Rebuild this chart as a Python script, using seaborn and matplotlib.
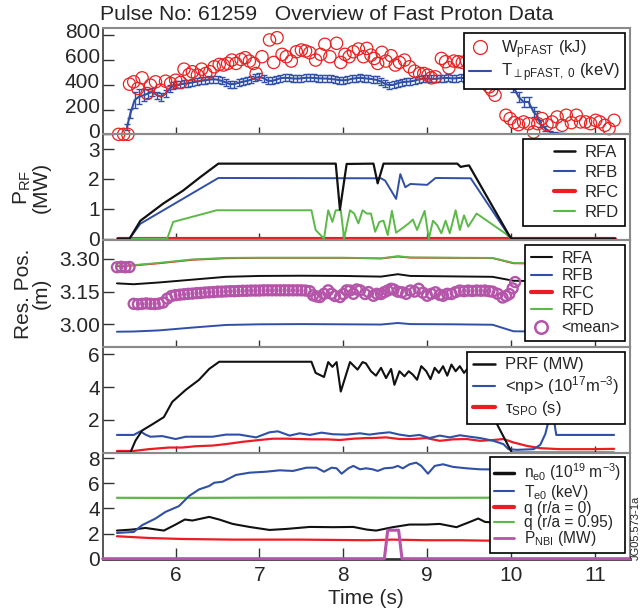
import numpy as np
import pandas as pd
import matplotlib
matplotlib.use("Agg")
import matplotlib.pyplot as plt
from matplotlib.lines import Line2D
from matplotlib.legend_handler import HandlerLine2D
from matplotlib.transforms import ScaledTranslation
import seaborn as sns

# ---------------- data ----------------
# Panel 1: fast proton energy content (circles) and perpendicular temperature (line + error bars)
W_t = [5.32, 5.38, 5.43, 5.45, 5.50, 5.55, 5.60, 5.66, 5.70, 5.76, 5.82, 5.88, 5.94, 6.00, 6.06, 6.10,
       6.16, 6.20, 6.26, 6.31, 6.36, 6.41, 6.46, 6.52, 6.57, 6.62, 6.67, 6.72, 6.78, 6.83, 6.88, 6.93,
       6.96, 7.03, 7.12, 7.17, 7.21, 7.27, 7.32, 7.38, 7.44, 7.50, 7.55, 7.60, 7.67, 7.73, 7.78, 7.84,
       7.92, 7.97, 8.02, 8.07, 8.12, 8.18, 8.24, 8.28, 8.33, 8.37, 8.41, 8.46, 8.51, 8.57, 8.62, 8.67,
       8.73, 8.79, 8.85, 8.91, 8.96, 9.01, 9.05, 9.10, 9.17, 9.22, 9.26, 9.32, 9.37, 9.42, 9.47, 9.52,
       9.55, 9.58, 9.62, 9.66, 9.70, 9.74, 9.77, 9.81, 9.94, 9.99, 10.04, 10.09, 10.15, 10.21, 10.27,
       10.32, 10.37, 10.43, 10.49, 10.55, 10.61, 10.66, 10.72, 10.78, 10.83, 10.89, 10.95, 11.01, 11.06,
       11.12, 11.17, 11.23]
W_v = [0, 0, 0, 404, 423, 369, 455, 329, 396, 423, 356, 428, 410, 436, 418, 525,
       482, 504, 477, 525, 490, 504, 544, 563, 558, 571, 598, 571, 603, 617, 590, 571,
       490, 625, 760, 579, 778, 644, 625, 590, 665, 679, 671, 657, 598, 644, 725, 625,
       733, 579, 644, 625, 665, 687, 625, 692, 638, 611, 571, 660, 590, 633, 558, 579,
       598, 544, 509, 490, 490, 477, 455, 463, 611, 585, 536, 590, 585, 579, 590, 544,
       571, 460, 520, 480, 430, 382, 356, 315, 154, 127, 94, 78, 100, 86, 19,
       86, 127, 78, 100, 140, 73, 154, 94, 154, 100, 100, 86, 113, 100,
       73, 46, 113]

T_t = [5.42, 5.46, 5.51, 5.56, 5.62, 5.67, 5.72, 5.78, 5.83, 5.88, 5.93, 5.97,
       6.00, 6.05, 6.10, 6.15, 6.20, 6.25, 6.30, 6.35, 6.40, 6.45, 6.50, 6.55, 6.60, 6.65, 6.70, 6.75,
       6.80, 6.85, 6.90, 6.95, 7.00, 7.05, 7.10, 7.15, 7.20, 7.25, 7.30, 7.35, 7.40, 7.45, 7.50, 7.55,
       7.60, 7.65, 7.70, 7.75, 7.80, 7.85, 7.90, 7.95, 8.00, 8.05, 8.10, 8.15, 8.20, 8.25, 8.30, 8.35,
       8.40, 8.45, 8.50, 8.55, 8.60, 8.65, 8.70, 8.75, 8.80, 8.85, 8.90, 8.95, 9.00, 9.05, 9.10, 9.15,
       9.20, 9.25, 9.30, 9.35, 9.40, 9.45, 9.50, 9.55, 9.60, 9.65, 9.70, 9.75, 9.80, 9.85, 9.90, 9.95,
       10.00, 10.03, 10.09, 10.15, 10.21, 10.27, 10.31, 10.35, 10.41, 10.47, 10.53, 10.59, 10.70, 10.80,
       10.90, 11.00, 11.10, 11.27]
T_v = [59, 167, 275, 302, 315, 329, 342, 315, 302, 329, 369, 392,
       398, 402, 408, 412, 418, 424, 430, 435, 440, 444, 440, 430, 418, 404, 405, 415,
       423, 430, 440, 455, 462, 452, 432, 430, 440, 452, 455, 454, 450, 449, 451, 455,
       456, 454, 451, 450, 449, 446, 442, 437, 435, 438, 447, 452, 455, 452, 448, 444,
       438, 425, 406, 396, 399, 412, 420, 423, 426, 432, 442, 448, 450, 446, 447, 450,
       453, 454, 450, 452, 455, 452, 452, 462, 474, 472, 468, 466, 463, 460, 455, 440,
       415, 382, 302, 261, 261, 180, 154, 86, 46, 19, 8, 5, 2, 0,
       0, 0, 0, 0]
T_err = [25, 35, 65, 60, 50, 40, 35, 30, 32, 32, 30, 28,
         28, 28, 28, 28, 28, 28, 28, 28, 28, 28, 28, 28, 28, 28, 28, 28,
         28, 28, 28, 28, 28, 28, 28, 28, 28, 28, 28, 28, 28, 28, 28, 28,
         28, 28, 28, 28, 28, 28, 28, 28, 28, 28, 28, 28, 28, 28, 28, 28,
         28, 28, 28, 28, 28, 28, 28, 28, 28, 28, 28, 28, 28, 28, 28, 28,
         28, 28, 28, 28, 28, 28, 28, 28, 28, 28, 28, 28, 28, 28, 30, 32,
         35, 38, 38, 40, 38, 38, 32, 28, 20, 12, 8, 5, 3, 0,
         0, 0, 0, 0]

# Panel 2: RF power per antenna (MW)
RFA_t = [5.31, 5.45, 5.58, 5.85, 6.09, 6.29, 6.51, 7.91, 7.96, 8.04, 8.36, 8.41, 8.48,
         9.36, 9.40, 9.45, 9.50, 9.98, 10.01, 11.24]
RFA_v = [0, 0, 0.60, 1.17, 1.61, 2.05, 2.51, 2.51, 0.97, 2.50, 2.51, 1.85, 2.51,
         2.51, 2.40, 2.43, 2.45, 0.10, 0, 0]
RFB_t = [5.31, 5.45, 5.58, 6.51, 8.45, 8.50, 8.63, 8.68, 8.74, 8.80, 9.00, 9.10, 9.52, 10.00, 11.24]
RFB_v = [0, 0, 0.50, 2.03, 2.02, 1.94, 1.33, 2.16, 1.72, 1.83, 1.80, 2.03, 2.02, 0, 0]
RFC_t = [5.31, 7.00, 9.00, 11.24]
RFC_v = [0, 0, 0, 0]
RFD_t = [5.31, 5.90, 5.97, 6.49, 7.62, 7.67, 7.77, 7.82, 7.87, 7.91, 7.97, 8.01, 8.08, 8.13, 8.18,
         8.23, 8.28, 8.33, 8.38, 8.43, 8.48, 8.53, 8.58, 8.63, 8.70, 8.78, 8.83, 8.88, 8.97, 9.02,
         9.07, 9.12, 9.17, 9.22, 9.27, 9.34, 9.39, 9.44, 9.49, 9.59, 9.93, 10.00, 11.24]
RFD_v = [0, 0, 0.56, 0.95, 0.95, 0.29, 0, 0.95, 0.56, 0.95, 0.95, 0, 0.95, 0.84, 0.51,
         0.95, 0.84, 0.84, 0.23, 0.56, 0.60, 0.12, 0.93, 0.20, 0.34, 0.51, 0.64, 0.29, 0.93, 0,
         0.60, 0.45, 0.18, 0.60, 0.18, 0.95, 0.29, 0.78, 0.40, 0.84, 0.18, 0, 0]

# Panel 3: resonance positions (m)
RES_t = [5.30, 5.50, 5.80, 6.20, 6.60, 7.00, 7.50, 8.00, 8.45, 8.65, 8.80, 9.30, 9.78, 10.03, 10.30, 11.24]
RESA = [3.188, 3.184, 3.192, 3.205, 3.218, 3.222, 3.223, 3.222, 3.219, 3.230, 3.222, 3.220, 3.218, 3.200, 3.198, 3.198]
RESB = [2.966, 2.967, 2.972, 2.985, 2.997, 3.000, 3.001, 3.000, 2.999, 3.006, 3.001, 3.000, 2.998, 2.968, 2.967, 2.967]
RESC = [3.266, 3.270, 3.280, 3.296, 3.303, 3.305, 3.305, 3.305, 3.302, 3.311, 3.306, 3.305, 3.304, 3.280, 3.279, 3.279]
RESD = [3.270, 3.272, 3.282, 3.298, 3.305, 3.306, 3.306, 3.306, 3.303, 3.313, 3.307, 3.306, 3.305, 3.282, 3.280, 3.280]
MEAN_t = [5.30, 5.35, 5.40, 5.45, 5.50, 5.55, 5.60, 5.65, 5.70, 5.75, 5.80, 5.85, 5.90, 5.95,
          6.00, 6.05, 6.10, 6.15, 6.20, 6.25, 6.30, 6.35, 6.40, 6.45, 6.50, 6.55, 6.60, 6.65,
          6.70, 6.75, 6.80, 6.85, 6.90, 6.95, 7.00, 7.05, 7.10, 7.15, 7.20, 7.25, 7.30, 7.35,
          7.40, 7.45, 7.50, 7.55, 7.60, 7.64, 7.68, 7.72, 7.77, 7.82, 7.86, 7.90, 7.96, 8.00,
          8.04, 8.08, 8.12, 8.16, 8.20, 8.26, 8.30, 8.36, 8.40, 8.45, 8.49, 8.53, 8.57, 8.60,
          8.65, 8.70, 8.75, 8.80, 8.85, 8.90, 8.95, 9.00, 9.05, 9.10, 9.15, 9.19, 9.24, 9.29,
          9.34, 9.39, 9.44, 9.49, 9.54, 9.59, 9.64, 9.69, 9.74, 9.78, 9.84, 9.90, 9.94, 9.98,
          10.02, 10.05]
MEAN_v = [3.262, 3.264, 3.262, 3.263, 3.094, 3.092, 3.094, 3.096, 3.094, 3.093, 3.095, 3.100, 3.118, 3.130,
          3.134, 3.136, 3.138, 3.140, 3.141, 3.143, 3.144, 3.146, 3.147, 3.148, 3.150, 3.150, 3.151, 3.152,
          3.152, 3.153, 3.154, 3.154, 3.155, 3.155, 3.155, 3.156, 3.156, 3.156, 3.156, 3.156, 3.156, 3.156,
          3.156, 3.156, 3.156, 3.155, 3.152, 3.133, 3.128, 3.125, 3.140, 3.156, 3.140, 3.130, 3.125, 3.139,
          3.156, 3.155, 3.140, 3.160, 3.156, 3.139, 3.148, 3.131, 3.140, 3.139, 3.148, 3.155, 3.163, 3.160,
          3.150, 3.147, 3.140, 3.155, 3.150, 3.163, 3.145, 3.131, 3.140, 3.147, 3.135, 3.131, 3.140, 3.139,
          3.148, 3.155, 3.152, 3.155, 3.153, 3.155, 3.154, 3.155, 3.152, 3.150, 3.140, 3.123, 3.130, 3.139,
          3.165, 3.194]

# Panel 4: PRF, <np>, tau_SPO
PRF_t = [5.30, 5.46, 5.52, 5.60, 5.72, 5.86, 5.96, 6.12, 6.28, 6.40, 6.52, 7.62, 7.67, 7.77, 7.82,
         7.87, 7.92, 7.97, 8.08, 8.17, 8.23, 8.27, 8.33, 8.39, 8.45, 8.51, 8.57, 8.61, 8.67, 8.73,
         8.78, 8.83, 8.88, 8.93, 8.99, 9.04, 9.09, 9.14, 9.19, 9.24, 9.29, 9.34, 9.39, 9.44, 9.49,
         9.53, 9.62, 9.81, 10.01, 11.23]
PRF_v = [0, 0, 0.72, 1.35, 1.72, 2.17, 3.10, 3.83, 4.45, 5.11, 5.55, 5.55, 4.87, 4.62, 5.53,
         5.24, 5.53, 3.73, 5.53, 5.07, 5.53, 5.45, 4.97, 4.70, 5.18, 4.55, 5.11, 4.14, 4.97, 4.66,
         4.97, 4.76, 4.45, 5.28, 4.97, 4.49, 5.18, 4.87, 5.28, 4.70, 5.38, 4.97, 5.28, 4.87, 5.18,
         4.97, 4.90, 1.97, 0, 0]
NP_t = [5.30, 5.50, 5.58, 5.64, 5.70, 5.84, 6.00, 6.12, 6.28, 6.44, 6.60, 6.76, 6.96, 7.12, 7.22,
        7.36, 7.48, 7.60, 7.74, 7.88, 8.04, 8.20, 8.31, 8.43, 8.55, 8.67, 8.79, 8.91, 9.03, 9.15,
        9.27, 9.39, 9.51, 9.63, 9.79, 9.91, 9.97, 10.07, 10.27, 10.35, 10.41, 10.45, 10.50, 10.52,
        10.54, 11.23]
NP_v = [1.08, 1.08, 1.30, 1.10, 0.97, 1.01, 0.83, 0.97, 0.97, 0.97, 1.10, 1.10, 0.93, 1.24, 1.30,
        1.04, 1.18, 1.08, 1.22, 1.12, 1.10, 1.18, 1.10, 1.18, 1.24, 1.10, 1.01, 1.08, 0.89, 1.04,
        0.93, 1.06, 0.97, 0.89, 0.72, 0.52, 0.21, 0.17, 0.21, 0.48, 1.14, 1.97, 3.00, 1.76,
        1.08, 1.08]
TAU_t = [5.30, 5.50, 5.68, 5.92, 6.08, 6.24, 6.44, 6.60, 6.80, 7.00, 7.16, 7.32, 7.48, 7.64, 7.80,
         7.96, 8.12, 8.28, 8.35, 8.51, 8.67, 8.83, 8.99, 9.15, 9.31, 9.47, 9.63, 9.79, 9.91, 10.03,
         10.19, 10.35, 10.59, 10.99, 11.23]
TAU_v = [0.10, 0.10, 0.21, 0.31, 0.31, 0.39, 0.43, 0.52, 0.66, 0.77, 0.85, 0.85, 0.83, 0.81, 0.81,
         0.77, 0.85, 0.89, 0.89, 0.93, 0.83, 0.83, 0.89, 0.72, 0.81, 0.83, 0.72, 0.77, 0.83, 0.62,
         0.41, 0.27, 0.21, 0.21, 0.23]

# Panel 5: plasma parameters
NE_t = [5.30, 5.48, 5.64, 5.86, 6.00, 6.11, 6.20, 6.40, 6.52, 6.68, 6.88, 7.12, 7.32, 7.60, 7.88,
        8.12, 8.28, 8.39, 8.43, 8.59, 8.79, 8.99, 9.15, 9.35, 9.51, 9.61, 9.69, 10.0, 10.5, 11.23]
NE_v = [2.24, 2.32, 2.45, 2.24, 2.72, 3.12, 3.04, 3.33, 3.12, 2.77, 2.53, 2.29, 2.37, 2.53, 2.51,
        2.53, 2.32, 2.24, 2.29, 2.51, 2.72, 2.72, 2.77, 2.51, 2.93, 3.20, 2.93, 2.80, 2.70, 2.70]
TE_t = [5.30, 5.50, 5.60, 5.76, 5.88, 6.04, 6.16, 6.28, 6.40, 6.46, 6.56, 6.72, 6.88, 7.08, 7.24,
        7.40, 7.48, 7.56, 7.68, 7.77, 7.86, 7.92, 7.98, 8.06, 8.12, 8.20, 8.27, 8.35, 8.41, 8.49,
        8.59, 8.65, 8.71, 8.79, 8.87, 8.93, 9.01, 9.09, 9.19, 9.31, 9.47, 9.63, 10.0, 10.5]
TE_v = [2.05, 2.13, 2.67, 3.20, 3.73, 4.19, 4.99, 5.52, 5.79, 6.05, 6.13, 6.67, 6.85, 6.93, 7.04,
        6.99, 7.12, 7.25, 7.25, 6.93, 7.25, 7.20, 6.77, 7.20, 7.39, 7.12, 7.20, 7.12, 6.99, 7.20,
        7.25, 7.39, 7.20, 7.52, 7.65, 7.39, 6.77, 7.39, 7.52, 7.31, 7.20, 7.12, 7.10, 7.05]
Q0_t = [5.30, 5.68, 6.08, 6.68, 7.48, 8.28, 8.59, 8.99, 9.39, 9.69, 10.5, 11.23]
Q0_v = [1.79, 1.65, 1.57, 1.52, 1.52, 1.47, 1.52, 1.47, 1.47, 1.44, 1.42, 1.42]
Q95_t = [5.30, 6.00, 7.00, 8.00, 9.00, 10.0, 11.23]
Q95_v = [4.85, 4.84, 4.86, 4.87, 4.85, 4.86, 4.86]
NBI_t = [5.13, 8.49, 8.53, 8.66, 8.70, 11.42]
NBI_v = [0, 0, 2.27, 2.27, 0, 0]

# ---------------- style ----------------
sns.set_theme(style="ticks")
plt.rcParams["font.family"] = ["Liberation Sans", "DejaVu Sans"]
plt.rcParams["mathtext.fontset"] = "custom"
plt.rcParams["mathtext.rm"] = "Liberation Sans"
plt.rcParams["mathtext.it"] = "Liberation Sans:italic"
plt.rcParams["mathtext.default"] = "regular"

BLACK = "#111111"
BLUE = "#3050a6"
RED = "#ec1c24"
GREEN = "#5cb947"
MAG = "#b455aa"
CRED = "#e82222"

fig = plt.figure(figsize=(6.43, 6.12), dpi=100)
axes = fig.subplots(5, 1, sharex=True, gridspec_kw=dict(hspace=0))
fig.subplots_adjust(left=0.1597, right=0.9798, top=0.9538, bottom=0.0871)

def line(ax, t, v, color, lw=1.5, z=2, **kw):
    sns.lineplot(x=t, y=v, ax=ax, color=color, lw=lw, estimator=None, sort=False,
                 legend=False, zorder=z, **kw)

def legend(ax, handles, labels, fs=11.5, ls=0.12, bp=0.35, hl=1.3, **kw):
    lg = ax.legend(handles, labels, loc="upper right", fontsize=fs, frameon=True, fancybox=False,
                   edgecolor="black", framealpha=1, borderaxespad=0.3, handlelength=hl,
                   handletextpad=0.6, borderpad=bp, labelspacing=ls, **kw)
    lg.get_frame().set_linewidth(1.2)
    lg.set_zorder(10)
    return lg

def LH(color, lw=1.5):
    return Line2D([], [], color=color, lw=lw)

# Panel 1
ax = axes[0]
sns.lineplot(x=T_t, y=T_v, ax=ax, color=BLUE, lw=1.5, estimator=None, sort=False, legend=False, zorder=3)
ax.errorbar(T_t, T_v, yerr=T_err, fmt="none", ecolor=BLUE, elinewidth=1.0, capsize=2.2,
            capthick=1.0, zorder=3)
sns.scatterplot(x=W_t, y=W_v, ax=ax, marker="o", s=78, facecolors="none", edgecolor=CRED,
                linewidth=0.9, color=CRED, zorder=4, clip_on=False, legend=False)
ax.set_ylim(0, 854)
ax.set_yticks([0, 200, 400, 600, 800])
legend(ax, [Line2D([], [], marker="o", ls="", mfc="none", mec=CRED, ms=10, mew=0.9), LH(BLUE)],
       ["W$_{pFAST}$ (kJ)", "T$_{\\perp pFAST,\\ 0}$ (keV)"], fs=12, ls=0.05, bp=0.3)

# Panel 2
ax = axes[1]
line(ax, RFC_t, RFC_v, RED, lw=3.0, z=2)
line(ax, RFD_t, RFD_v, GREEN, lw=1.4, z=3)
line(ax, RFB_t, RFB_v, BLUE, lw=1.4, z=4)
line(ax, RFA_t, RFA_v, BLACK, lw=1.6, z=5)
ax.set_ylim(-0.06, 3.49)
ax.set_yticks([0, 1, 2, 3])
ax.set_ylabel("P$_{RF}$\n(MW)", fontsize=15, linespacing=0.95)
legend(ax, [LH(BLACK, 1.8), LH(BLUE), LH(RED, 3), LH(GREEN)], ["RFA", "RFB", "RFC", "RFD"],
       fs=12, ls=0.3, hl=2.8, handler_map={Line2D: HandlerLine2D(xpad=1.55)})

# Panel 3
ax = axes[2]
line(ax, RES_t, RESC, RED, lw=1.3, z=2)
line(ax, RES_t, RESD, GREEN, lw=1.3, z=3)
line(ax, RES_t, RESA, BLACK, lw=1.4, z=3)
line(ax, RES_t, RESB, BLUE, lw=1.4, z=3)
sns.scatterplot(x=MEAN_t, y=MEAN_v, ax=ax, marker="o", s=52, facecolors="none", edgecolor=MAG,
                linewidth=1.7, color=MAG, zorder=4, legend=False)
ax.set_ylim(2.898, 3.385)
ax.set_yticks([3.00, 3.15, 3.30])
ax.set_yticklabels(["3.00", "3.15", "3.30"])
ax.set_ylabel("Res. Pos.\n(m)", fontsize=15, linespacing=0.95)
legend(ax, [LH(BLACK), LH(BLUE), LH(RED, 3), LH(GREEN),
            Line2D([], [], marker="o", ls="", mfc="none", mec=MAG, ms=9, mew=1.8)],
       ["RFA", "RFB", "RFC", "RFD", "<mean>"], fs=11.5, ls=0.15)

# Panel 4
ax = axes[3]
line(ax, TAU_t, TAU_v, RED, lw=1.6, z=2)
line(ax, NP_t, NP_v, BLUE, lw=1.5, z=3)
line(ax, PRF_t, PRF_v, BLACK, lw=1.5, z=4)
ax.set_ylim(0, 6.48)
ax.set_yticks([2, 4, 6])
legend(ax, [LH(BLACK, 1.8), LH(BLUE), LH(RED, 3)],
       ["PRF (MW)", "<np> (10$^{17}$m$^{-3}$)", "$\\tau_{SPO}$ (s)"], fs=12, ls=0.12)

# Panel 5
ax = axes[4]
line(ax, Q95_t, Q95_v, GREEN, lw=1.6, z=2)
line(ax, Q0_t, Q0_v, RED, lw=1.6, z=2)
line(ax, NE_t, NE_v, BLACK, lw=1.5, z=3)
line(ax, TE_t, TE_v, BLUE, lw=1.5, z=3)
sns.lineplot(x=NBI_t, y=NBI_v, ax=ax, color=MAG, lw=2.2, estimator=None, sort=False,
             legend=False, zorder=6, clip_on=False)
ax.set_ylim(0, 8.45)
ax.set_yticks([0, 2, 4, 6, 8])
ax.set_xlim(5.13, 11.42)
ax.set_xticks([6, 7, 8, 9, 10, 11])
ax.set_xlabel("Time (s)", fontsize=15, labelpad=3)
legend(ax, [LH(BLACK, 2.5), LH(BLUE), LH(RED, 3), LH(GREEN), LH(MAG, 2)],
       ["n$_{e0}$ (10$^{19}$ m$^{-3}$)", "T$_{e0}$ (keV)", "q (r/a = 0)", "q (r/a = 0.95)",
        "P$_{NBI}$ (MW)"], fs=11.2, ls=-0.05, bp=0.28)

for i, ax in enumerate(axes):
    ax.set_facecolor("none")
    ax.tick_params(axis="y", direction="in", length=8, width=1.0, labelsize=15, pad=2,
                   color="#333333", left=True, right=False)
    ax.tick_params(axis="x", direction="in", length=8 if i == 4 else 5, width=1.0, labelsize=15,
                   pad=5, color="#333333", top=False)
    for s in ["top", "right", "bottom"]:
        ax.spines[s].set_color("#8a8a8a")
        ax.spines[s].set_linewidth(1.5)
    ax.spines["left"].set_color("#3a3a3a")
    ax.spines["left"].set_linewidth(1.2)
    ax.yaxis.set_label_coords(-0.098, 0.5)
axes[4].spines["bottom"].set_color("#333333")
axes[4].spines["bottom"].set_linewidth(2.0)

# lift the top panel's tick labels slightly (as in the original) so "0" clears the "3" below
lift = ScaledTranslation(0, 3.0 / 72, fig.dpi_scale_trans)
for tk in axes[0].yaxis.get_major_ticks():
    tk.label1.set_transform(tk.label1.get_transform() + lift)

fig.text(100 / 643, 1 - 15 / 612, "Pulse No: 61259   Overview of Fast Proton Data",
         fontsize=15.3, ha="left", va="center")
fig.text(636 / 643, 1 - 528 / 612, "JG05.573-1a", rotation=90, fontsize=8,
         ha="center", va="center")

fig.savefig("out.png", dpi=100)
